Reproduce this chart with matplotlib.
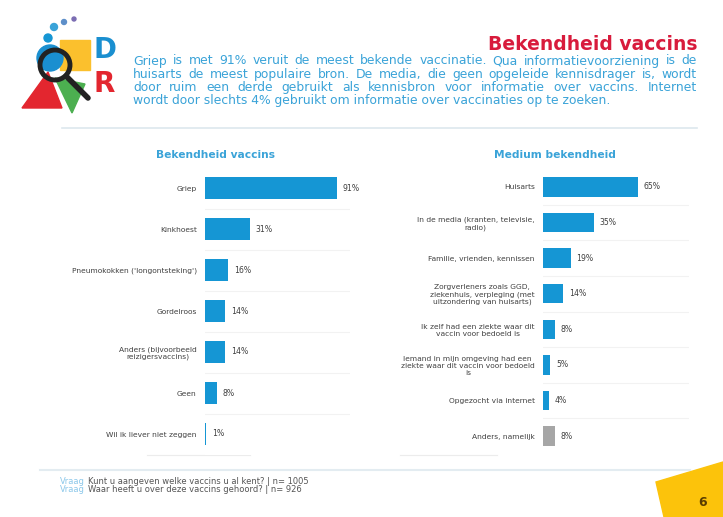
import matplotlib
matplotlib.use("Agg")
from matplotlib import pyplot as plt
from matplotlib import patches

# data
left_cats = ["Griep", "Kinkhoest", "Pneumokokken ('longontsteking')", "Gordelroos",
             "Anders (bijvoorbeeld\nreizigersvaccins)", "Geen", "Wil ik liever niet zeggen"]
left_vals = [91, 31, 16, 14, 14, 8, 1]

right_cats = ["Huisarts", "In de media (kranten, televisie,\nradio)", "Familie, vrienden, kennissen",
              "Zorgverleners zoals GGD,\nziekenhuis, verpleging (met\nuitzondering van huisarts)",
              "Ik zelf had een ziekte waar dit\nvaccin voor bedoeld is",
              "Iemand in mijn omgeving had een\nziekte waar dit vaccin voor bedoeld\nis",
              "Opgezocht via internet", "Anders, namelijk"]
right_vals = [65, 35, 19, 14, 8, 5, 4, 8]

title = "Bekendheid vaccins"
intro = ["Griep is met 91% veruit de meest bekende vaccinatie. Qua informatievoorziening is de",
         "huisarts de meest populaire bron. De media, die geen opgeleide kennisdrager is, wordt",
         "door ruim een derde gebruikt als kennisbron voor informatie over vaccins. Internet",
         "wordt door slechts 4% gebruikt om informatie over vaccinaties op te zoeken."]
footer = [("Vraag", "Kunt u aangeven welke vaccins u al kent? | n= 1005"),
          ("Vraag", "Waar heeft u over deze vaccins gehoord? | n= 926")]

BLUE = "#1596d4"
TXT_BLUE = "#3aa3d8"
GREY_TXT = "#404040"

W, H = 723, 517
fig = plt.figure(figsize=(W / 100, H / 100), dpi=100)

# overlay axes in pixel coords for the page decoration
bg = fig.add_axes([0, 0, 1, 1])
bg.set_xlim(0, W)
bg.set_ylim(H, 0)
bg.axis("off")

# logo
bg.add_patch(patches.Circle((54, 27), 3.5, color="#3aa3d8"))
bg.add_patch(patches.Circle((64, 22), 2.5, color="#5d8fc9"))
bg.add_patch(patches.Circle((74, 19), 2, color="#7b6db3"))
bg.add_patch(patches.Circle((48, 38), 4, color="#1596d4"))
bg.add_patch(patches.Rectangle((60, 40), 30, 30, color="#fbc02d"))
bg.add_patch(patches.Circle((50, 58), 13, color="#1a8fd0"))
bg.add_patch(patches.Polygon([(22, 108), (48, 72), (62, 108)], color="#e3262f"))
bg.add_patch(patches.Polygon([(55, 78), (85, 84), (72, 113)], color="#4caf50"))
bg.add_patch(patches.Circle((55, 65), 15, fill=False, lw=3.5, color="#222222"))
bg.plot([66, 88], [76, 98], color="#222222", lw=4, solid_capstyle="round")
bg.text(94, 50, "D", color="#1a8fd0", fontsize=20, fontweight="bold", va="center", ha="left")
bg.text(94, 84, "R", color="#e3262f", fontsize=20, fontweight="bold", va="center", ha="left")

# header
bg.text(697, 45, title, color="#d81b3c", fontsize=13.5, fontweight="bold", ha="right", va="center")

# justified intro text
fig.canvas.draw()
r = fig.canvas.get_renderer()
x0, x1 = 133, 697
for i, line in enumerate(intro):
    y = 61 + i * 13.2
    words = line.split(" ")
    if i == len(intro) - 1:
        bg.text(x0, y, line, color=TXT_BLUE, fontsize=8.9, va="center", ha="left")
        continue
    ts = [bg.text(0, y, w, color=TXT_BLUE, fontsize=8.9, va="center", ha="left") for w in words]
    widths = [t.get_window_extent(r).width for t in ts]
    gap = (x1 - x0 - sum(widths)) / (len(words) - 1)
    x = x0
    for t, w in zip(ts, widths):
        t.set_x(x)
        x += w + gap

bg.plot([62, 697], [128, 128], color="#dde8ee", lw=1.2)
bg.plot([40, 690], [470, 470], color="#e3ecf1", lw=1.5)
bg.plot([147, 250], [455, 455], color="#ececec", lw=0.8)
bg.plot([400, 497], [455, 455], color="#ececec", lw=0.8)

# footer
for i, (q, txt) in enumerate(footer):
    y = 481 + i * 9
    bg.text(60, y, q, color="#8cc8ea", fontsize=6, va="center", ha="left")
    bg.text(88, y, txt, color="#555555", fontsize=6, va="center", ha="left")

# page corner
bg.add_patch(patches.Polygon([(656, 482), (723, 462), (723, 517), (664, 517)], color="#fcc30b"))
bg.text(703, 502, "6", color="#5a3d00", fontsize=9, fontweight="bold", ha="center", va="center")


def bar_panel(rect, cats, vals, colors, head, head_x):
    ax = fig.add_axes(rect)
    ypos = list(range(len(cats)))
    ax.barh(ypos, vals, height=0.55, color=colors)
    ax.set_xlim(0, 100)
    ax.set_ylim(len(cats) - 0.5, -0.5)
    ax.set_yticks(ypos)
    ax.set_yticklabels(cats, fontsize=5.4, color=GREY_TXT, multialignment="center")
    ax.tick_params(axis="y", length=0, pad=6)
    ax.set_xticks([])
    for s in ax.spines.values():
        s.set_visible(False)
    for k in range(len(cats) - 1):
        ax.axhline(k + 0.5, xmin=0.0, xmax=1.0, color="#f2f2f2", lw=0.8)
    for yy, v in zip(ypos, vals):
        ax.text(v + 4, yy, f"{v}%", fontsize=5.6, color=GREY_TXT, va="center", ha="left")
    bg.text(head_x, 155, head, color=TXT_BLUE, fontsize=7.7, fontweight="bold", ha="center", va="center")
    return ax


bar_panel([205 / W, 1 - 454.5 / H, 145 / W, 287 / H], left_cats, left_vals,
          [BLUE] * len(left_vals), "Bekendheid vaccins", 215)
bar_panel([543 / W, 1 - 453.8 / H, 146 / W, 284.6 / H], right_cats, right_vals,
          [BLUE] * (len(right_vals) - 1) + ["#a6a6a6"], "Medium bekendheid", 555)

fig.savefig("out.png", dpi=100)
